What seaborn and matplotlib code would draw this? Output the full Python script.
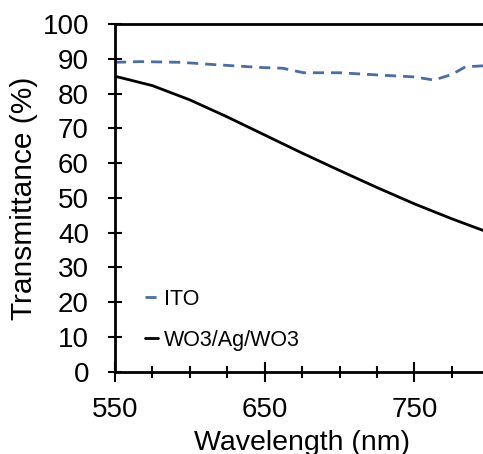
import pandas as pd
import matplotlib.pyplot as plt
import seaborn as sns
from matplotlib.ticker import MultipleLocator, FixedLocator

# ------------------------------
# Data
# ------------------------------
ito_wl = [550, 567, 594, 614, 648, 662, 676, 700, 728, 750, 763, 775, 784, 800]
ito_t = [89.0, 89.2, 89.0, 88.4, 87.5, 87.3, 86.0, 86.0, 85.3, 84.8, 83.9, 85.5, 87.7, 88.1]

wag_wl = [550, 575, 600, 625, 650, 675, 700, 725, 750, 775, 800]
wag_t = [85.0, 82.3, 78.2, 73.3, 68.1, 62.9, 57.9, 53.0, 48.3, 44.0, 40.0]

series_names = ["ITO", "WO3/Ag/WO3"]
x_major_ticks = [550, 650, 750]

df = pd.concat([
    pd.DataFrame({"wl": ito_wl, "T": ito_t, "sample": series_names[0]}),
    pd.DataFrame({"wl": wag_wl, "T": wag_t, "sample": series_names[1]}),
], ignore_index=True)

# ------------------------------
# Figure
# ------------------------------
sns.set_style("white")
plt.rcParams['font.family'] = ['Liberation Sans', 'DejaVu Sans']
plt.rcParams['text.color'] = 'black'
plt.rcParams['axes.labelcolor'] = 'black'

fig = plt.figure(figsize=(4.83, 4.54), dpi=100)
ax = fig.add_axes([0.238, 0.181, 0.775, 0.766])

palette = {"ITO": "#4a6ca8", "WO3/Ag/WO3": "black"}
sns.lineplot(data=df, x="wl", y="T", hue="sample", style="sample",
             palette=palette, dashes={"ITO": (4, 2.5), "WO3/Ag/WO3": ""},
             linewidth=2, ax=ax, estimator=None, sort=True)

ax.set_xlim(550, 800)
ax.set_ylim(0, 100)
ax.xaxis.set_major_locator(FixedLocator(x_major_ticks))
ax.xaxis.set_minor_locator(MultipleLocator(25))
ax.yaxis.set_major_locator(MultipleLocator(10))
ax.tick_params(axis="both", which="both", direction="inout", width=1.5,
               labelsize=20, color="black", labelcolor="black")
ax.tick_params(axis="y", which="major", length=9.5, left=True, pad=14)
ax.tick_params(axis="x", which="major", length=14, bottom=True, pad=11)
ax.tick_params(axis="x", which="minor", length=9, bottom=True)

for side in ["left", "bottom", "top"]:
    ax.spines[side].set_visible(True)
    ax.spines[side].set_color("black")
    ax.spines[side].set_linewidth(2)
ax.spines["right"].set_visible(False)

ax.set_xlabel("Wavelength (nm)", fontsize=20.5, labelpad=5)
ax.set_ylabel("Transmittance (%)", fontsize=21.5, labelpad=3)

leg = ax.legend(loc="lower left", bbox_to_anchor=(0.08, 0.06), frameon=False,
                fontsize=15.5, handlelength=0.6, handletextpad=0.3,
                labelspacing=0.95, borderpad=0, borderaxespad=0)

fig.savefig("out.png", dpi=100)
